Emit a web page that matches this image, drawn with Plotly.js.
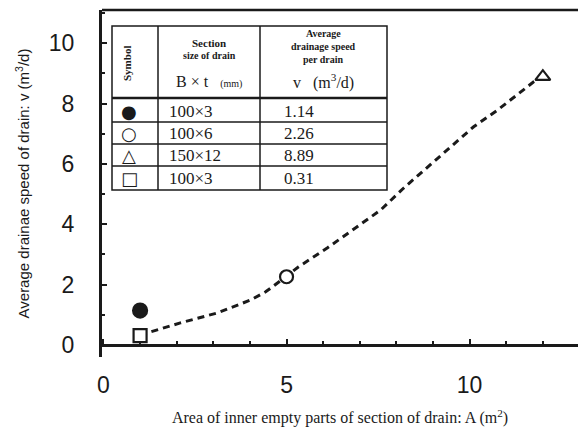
<!DOCTYPE html>
<html>
<head>
<meta charset="utf-8">
<script src="https://cdn.plot.ly/plotly-3.0.1.min.js"></script>
<style>html,body{margin:0;padding:0;background:#fff;}#chart{width:578px;height:430px;}</style>
</head>
<body>
<div id="chart"></div>
<script>
// ---- data ----
const symbolNames = ['circle', 'circle', 'triangle-up', 'square'];
const symbolFills = ['#1a1a1a', '#ffffff', '#ffffff', '#ffffff'];
const symbolGlyphs = ['●', '○', '△', '□'];
const drainSizes = ['100×3', '100×6', '150×12', '100×3'];
const areas = [1, 5, 12, 1];
const speeds = [1.14, 2.26, 8.89, 0.31];
const speedLabels = ['1.14', '2.26', '8.89', '0.31'];
// dashed trend curve
const curveX = [1.0, 1.28, 2.10, 3.11, 4.02, 4.43, 4.97, 5.33, 6.12, 6.94, 7.57, 8.20, 8.85, 9.48, 10.11, 10.77, 11.75, 12.0];
const curveY = [0.31, 0.43, 0.73, 1.06, 1.49, 1.76, 2.25, 2.59, 3.22, 3.91, 4.47, 5.20, 5.90, 6.56, 7.23, 7.79, 8.72, 8.89];
const xTickVals = [0, 5, 10];
const yTickVals = [0, 2, 4, 6, 8, 10];

// ---- layout helpers (pixel -> paper) ----
const W = 578, H = 430, ML = 102, MR = 0, MT = 10, MB = 73;
const PW = W - ML - MR, PH = H - MT - MB;
const PX = x => (x - ML) / PW;
const PY = y => (H - MB - y) / PH;

const ink = '#1a1a1a';
const serif = 'Liberation Serif, Times New Roman, serif';
const sans = 'Liberation Sans, Arial, sans-serif';

const traces = [
  {
    x: curveX, y: curveY, type: 'scatter', mode: 'lines',
    line: {color: ink, width: 3, dash: '7px,5px'},
    hoverinfo: 'skip', showlegend: false
  }
];
areas.forEach((a, i) => {
  traces.push({
    x: [a], y: [speeds[i]], type: 'scatter', mode: 'markers',
    marker: {symbol: symbolNames[i], size: i === 0 ? 14 : 13, color: symbolFills[i],
             line: {color: ink, width: 2.2}},
    showlegend: false, name: drainSizes[i]
  });
});

// table shapes
const TL = 112, TR = 387, TT = 26, TB = 190, C1 = 158, C2 = 260;
const shapes = [
  {type: 'line', xref: 'paper', yref: 'paper', x0: 0, x1: 1, y0: 1, y1: 1, line: {color: ink, width: 2.5}},
  {type: 'rect', xref: 'paper', yref: 'paper', x0: PX(TL), x1: PX(TR), y0: PY(TB), y1: PY(TT), line: {color: ink, width: 1.5}, fillcolor: 'rgba(255,255,255,1)'},
  {type: 'line', xref: 'paper', yref: 'paper', x0: PX(C1), x1: PX(C1), y0: PY(TB), y1: PY(TT), line: {color: ink, width: 1.5}},
  {type: 'line', xref: 'paper', yref: 'paper', x0: PX(C2), x1: PX(C2), y0: PY(TB), y1: PY(TT), line: {color: ink, width: 1.5}},
  {type: 'line', xref: 'paper', yref: 'paper', x0: PX(TL), x1: PX(TR), y0: PY(98), y1: PY(98), line: {color: ink, width: 2.5}}
];
[122, 144, 166].forEach(y => shapes.push({type: 'line', xref: 'paper', yref: 'paper', x0: PX(TL), x1: PX(TR), y0: PY(y), y1: PY(y), line: {color: ink, width: 1.5}}));

const ann = (text, x, y, size, opts) => Object.assign({
  text: text, xref: 'paper', yref: 'paper', x: PX(x), y: PY(y), showarrow: false,
  xanchor: 'center', yanchor: 'middle', font: {family: serif, size: size, color: ink}
}, opts || {});

const annotations = [
  ann('<b>Symbol</b>', 127, 64, 11, {textangle: -90}),
  ann('<b>Section</b>', 209, 43, 11),
  ann('<b>size of drain</b>', 209, 55, 10),
  ann('B × t&nbsp;&nbsp;&nbsp;<span style="font-size:10px">(mm)</span>', 209, 82, 16),
  ann('<b>Average</b>', 323, 33, 10),
  ann('<b>drainage speed</b>', 323, 46, 10),
  ann('<b>per drain</b>', 323, 59, 10),
  ann('v&nbsp;&nbsp;&nbsp;(m<sup>3</sup>/d)', 323, 82, 16)
];
const rowY = [111, 133, 155, 178];
rowY.forEach((y, i) => {
  annotations.push(ann(symbolGlyphs[i], 129, y, 18, {font: {family: 'DejaVu Sans', size: 18, color: ink}}));
  annotations.push(ann(drainSizes[i], 167, y, 17, {xanchor: 'left'}));
  annotations.push(ann(speedLabels[i], 282, y, 17, {xanchor: 'left'}));
});

const layout = {
  width: W, height: H,
  margin: {l: ML, r: MR, t: MT, b: MB, pad: 0},
  paper_bgcolor: '#fff', plot_bgcolor: '#fff',
  showlegend: false,
  xaxis: {
    range: [-0.04, 12.96], anchor: 'free', position: 0.4 / 11.5,
    showline: true, linecolor: ink, linewidth: 3,
    showgrid: false, zeroline: false,
    tickmode: 'array', tickvals: xTickVals, ticktext: xTickVals.map(String),
    ticks: 'inside', ticklen: 5, tickwidth: 2, tickcolor: ink,
    minor: {dtick: 1, tick0: 0, ticks: 'inside', ticklen: 3, tickwidth: 2, tickcolor: ink},
    tickfont: {family: sans, size: 23, color: ink},
    ticklabelstandoff: 18,
    title: {text: 'Area of inner empty parts of section of drain: A (m<sup>2</sup>)',
            font: {family: serif, size: 16, color: ink}, standoff: 15}
  },
  yaxis: {
    range: [-0.4, 11.1],
    showline: true, linecolor: ink, linewidth: 3,
    showgrid: false, zeroline: false,
    tickmode: 'array', tickvals: yTickVals, ticktext: yTickVals.map(String),
    ticks: 'inside', ticklen: 5, tickwidth: 2, tickcolor: ink,
    minor: {dtick: 1, tick0: 0, ticks: 'inside', ticklen: 3, tickwidth: 2, tickcolor: ink},
    tickfont: {family: sans, size: 23, color: ink},
    ticklabelstandoff: 20,
    title: {text: 'Average drainae speed of drain: v (m<sup>3</sup>/d)',
            font: {family: sans, size: 15, color: ink}, standoff: 16}
  },
  shapes: shapes,
  annotations: annotations
};

Plotly.newPlot('chart', traces, layout, {displayModeBar: false, staticPlot: true});
</script>
</body>
</html>
